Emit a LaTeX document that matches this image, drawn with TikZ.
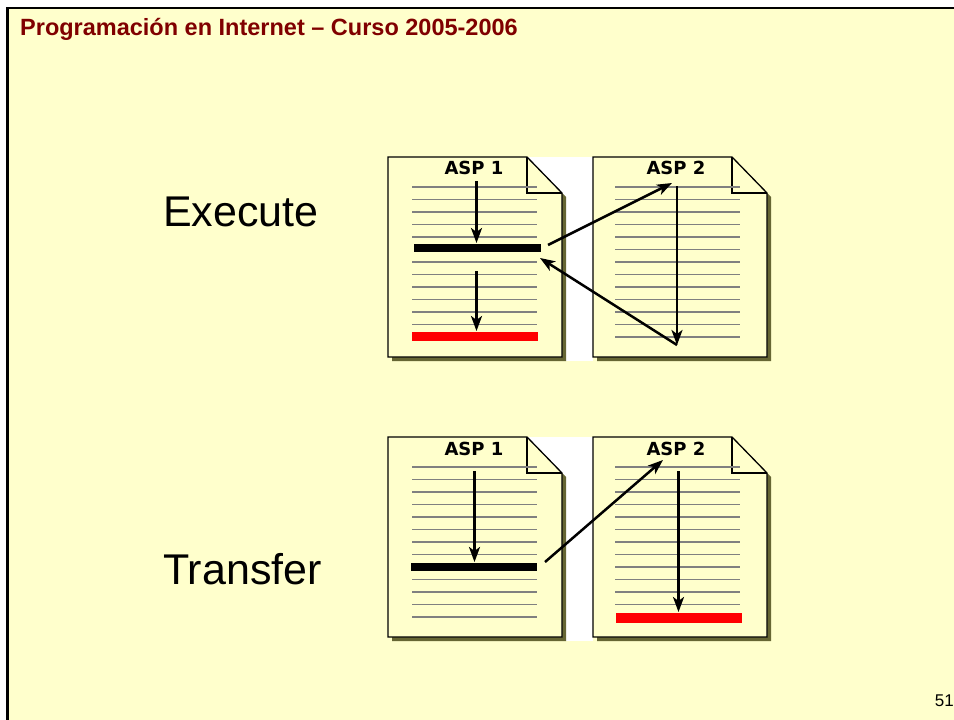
\documentclass[tikz,border=0pt]{standalone}
\usepackage{fontspec}
\setmainfont{Liberation Sans}
\newfontfamily\pixfont{DejaVu Sans}
\usetikzlibrary{arrows.meta}
\definecolor{slidebg}{HTML}{FFFFCC}
\definecolor{paper}{HTML}{FFFFCC}
\definecolor{sheetshadow}{HTML}{666633}
\definecolor{titlered}{HTML}{800000}
\tikzset{
  flow/.style={->, >={Stealth[length=15pt,width=11pt,inset=4pt]}, line width=2.5pt},
  rule/.style={gray, line width=1.5pt},
  asplabel/.style={inner sep=0pt, font=\pixfont\bfseries\fontsize{18}{21}\selectfont},
  bigword/.style={anchor=base west, inner sep=0pt, font=\fontsize{43}{50}\selectfont},
}

\begin{document}
\begin{tikzpicture}[x=1pt,y=-1pt]
\useasboundingbox (0,0) rectangle (954,720);
\fill[white] (0,0) rectangle (954,720);
\fill[slidebg] (7,8) rectangle (954,720);
\draw[line width=2.5pt] (954,8) -- (7.5,8) -- (7.5,720);
\node[anchor=base west, inner sep=0pt, text=titlered, font=\bfseries\fontsize{23.5}{27}\selectfont] (title) at (20,35) {Programación en Internet – Curso 2005-2006};
\node[anchor=base east, inner sep=0pt, font=\fontsize{17}{20}\selectfont] (page) at (954,706) {51};

% white behind the pictures
\fill[white] (562,157) rectangle (593,361);
\fill[white] (562,437) rectangle (593,641);
\foreach \py in {157,437}
\fill[white] (527,\py) -- (562,\py) -- (562,\py+36) -- cycle;

% sheets
\foreach \px/\py in {388/157, 593/157, 388/437, 593/437} {
  \fill[sheetshadow] (\px+4,\py+4) -- (\px+143,\py+4) -- (\px+178,\py+40) -- (\px+178,\py+204) -- (\px+4,\py+204) -- cycle;
  \draw[fill=paper, line width=1.3pt] (\px,\py) -- (\px+139,\py) -- (\px+174,\py+36) -- (\px+174,\py+200) -- (\px,\py+200) -- cycle;
  \draw[line width=1.3pt] (\px+139,\py) -- (\px+139,\py+36) -- (\px+174,\py+36);
}

% ruled lines
\foreach \k in {0,1,2,3,4,6,7,8,9,10,11}
\draw[rule] (412,187+12.5*\k) -- (537,187+12.5*\k);
\foreach \k in {0,...,12}
\draw[rule] (615,187+12.5*\k) -- (740,187+12.5*\k);
\foreach \k in {0,1,2,3,4,5,6,7,9,10,11,12}
\draw[rule] (412,467+12.5*\k) -- (537,467+12.5*\k);
\foreach \k in {0,...,11}
\draw[rule] (615,467+12.5*\k) -- (740,467+12.5*\k);

% bars
\fill (414,244) rectangle (541,252);
\fill[red] (412,331.5) rectangle (538,340.5);
\fill (411,562.5) rectangle (537,570.5);
\fill[red] (616,613) rectangle (742,622.5);

% labels
\node[asplabel] (asp1a) at (474,168) {ASP 1};
\node[asplabel] (asp2a) at (676,168) {ASP 2};
\node[asplabel] (asp1b) at (474,449) {ASP 1};
\node[asplabel] (asp2b) at (676,449) {ASP 2};
\node[bigword] (exec) at (163,226) {Execute};
\node[bigword] (trans) at (163,584) {Transfer};

% execute
\coordinate (e1) at (476.5,181);
\coordinate (e2) at (476.5,243);
\coordinate (e3) at (476.5,271);
\coordinate (e4) at (476.5,331);
\coordinate (e5) at (548,245);
\coordinate (e6) at (672,183);
\coordinate (e7) at (677,186);
\coordinate (e8) at (677,345);
\coordinate (e9) at (540,258);
\draw[flow] (e1) -- (e2);
\draw[flow] (e3) -- (e4);
\draw[flow] (e5) -- (e6);
\draw[flow] (e7) -- (e8);
\draw[flow] (e8) -- (e9);

% transfer
\coordinate (t1) at (474.5,471);
\coordinate (t2) at (474.5,562);
\coordinate (t3) at (545,562);
\coordinate (t4) at (663,460);
\coordinate (t5) at (678.5,471);
\coordinate (t6) at (678.5,612);
\draw[flow] (t1) -- (t2);
\draw[flow] (t3) -- (t4);
\draw[flow] (t5) -- (t6);
\end{tikzpicture}
\end{document}
